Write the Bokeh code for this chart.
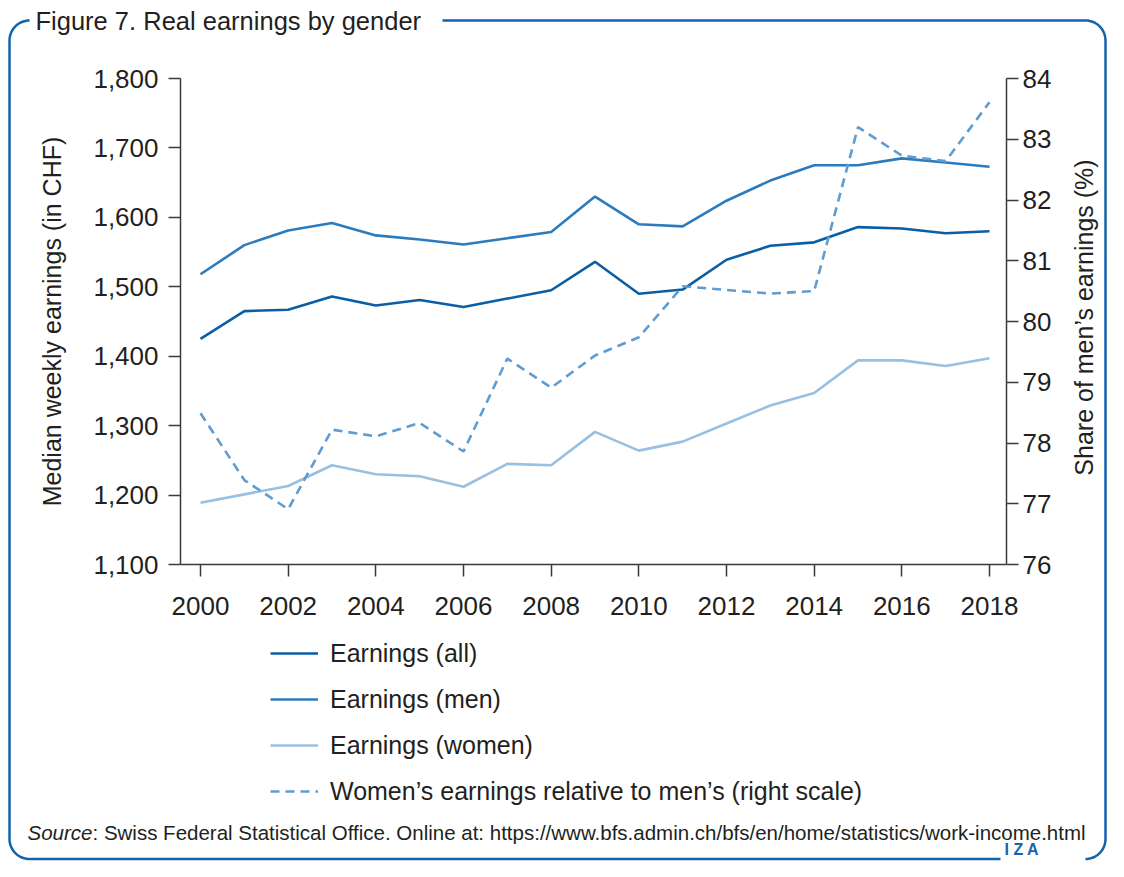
import numpy as np
from bokeh.plotting import figure
from bokeh.models import (Range1d, LinearAxis, FixedTicker, NumeralTickFormatter,
                          Label, Legend, LegendItem)
from bokeh.embed import file_html
from bokeh.resources import INLINE

# ---------------- data ----------------
years = list(range(2000, 2019))
earn_all = [1425, 1465, 1467, 1486, 1473, 1481, 1471, 1483, 1495, 1536,
            1490, 1496, 1539, 1559, 1564, 1586, 1584, 1577, 1580]
earn_men = [1518, 1560, 1581, 1592, 1574, 1568, 1561, 1570, 1579, 1630,
            1590, 1587, 1624, 1653, 1675, 1675, 1685, 1679, 1673]
earn_women = [1189, 1201, 1213, 1243, 1230, 1227, 1212, 1245, 1243, 1291,
              1264, 1277, 1303, 1329, 1347, 1394, 1394, 1386, 1397]
share_pct = [78.49, 77.39, 76.91, 78.22, 78.11, 78.33, 77.86, 79.39, 78.91, 79.44,
             79.74, 80.58, 80.52, 80.46, 80.50, 83.20, 82.73, 82.64, 83.61]

x_ticks = [2000, 2002, 2004, 2006, 2008, 2010, 2012, 2014, 2016, 2018]
left_ticks = [1100, 1200, 1300, 1400, 1500, 1600, 1700, 1800]
right_ticks = [76, 77, 78, 79, 80, 81, 82, 83, 84]

series_labels = ["Earnings (all)", "Earnings (men)", "Earnings (women)",
                 "Women\u2019s earnings relative to men\u2019s (right scale)"]
title_text = "Figure 7. Real earnings by gender"
left_label = "Median weekly earnings (in CHF)"
right_label = "Share of men\u2019s earnings (%)"
source_italic = "Source"
source_rest = ": Swiss Federal Statistical Office. Online at: https://www.bfs.admin.ch/bfs/en/home/statistics/work-income.html"
logo_text = "I Z A"

# ---------------- layout constants ----------------
W, H = 1108, 861
FONT = "Liberation Sans"
TXT = "#231f20"
BLUE = "#1463ad"
C_ALL = "#0a5ea6"
C_MEN = "#2b7bbd"
C_WOMEN = "#98c0e2"
C_SHARE = "#5e9cd2"
AX = "#3a3a3a"

# pixel calibration (canvas coords)
px_per_year = 789.0 / 18
x0_px = 200.0                      # 2000
y_top_px, y_bot_px = 78.0, 564.0   # 1800 / 1100 and 84 / 76
chf_per_px = 700.0 / (y_bot_px - y_top_px)
pct_per_px = 8.0 / (y_bot_px - y_top_px)

x_start = 2000 - x0_px / px_per_year
x_end = 2000 + (W - x0_px) / px_per_year
y_start = 1100 - (H - y_bot_px) * chf_per_px
y_end = 1800 + y_top_px * chf_per_px
p_start = 76 - (H - y_bot_px) * pct_per_px
p_end = 84 + y_top_px * pct_per_px

x_axis_left = 2000 - 20 / px_per_year
x_axis_right = 2018 + 17 / px_per_year

p = figure(width=W, height=H, x_range=Range1d(x_start, x_end),
           y_range=Range1d(y_start, y_end), output_backend="svg",
           toolbar_location=None, x_axis_type=None, y_axis_type=None,
           min_border=0)
p.outline_line_color = None
p.background_fill_color = "white"
p.border_fill_color = "white"
p.extra_y_ranges = {"pct": Range1d(p_start, p_end), "py": Range1d(H, 0)}
p.extra_x_ranges = {"px": Range1d(0, W)}

# ---------------- axes ----------------
def style_axis(ax):
    ax.axis_line_color = AX
    ax.axis_line_width = 1.5
    ax.major_tick_line_color = AX
    ax.major_tick_line_width = 1.5
    ax.major_tick_out = 12
    ax.major_tick_in = 0
    ax.minor_tick_out = 0
    ax.minor_tick_in = 0
    ax.major_label_text_font = FONT
    ax.major_label_text_font_size = "26px"
    ax.major_label_text_color = TXT
    ax.axis_label_text_font = FONT
    ax.axis_label_text_font_size = "25px"
    ax.axis_label_text_font_style = "normal"
    ax.axis_label_text_color = TXT

xaxis = LinearAxis(fixed_location=1100, ticker=FixedTicker(ticks=x_ticks),
                   bounds=(x_axis_left, x_axis_right))
style_axis(xaxis)
xaxis.major_label_standoff = 20
p.add_layout(xaxis, "below")

yaxis = LinearAxis(fixed_location=x_axis_left, ticker=FixedTicker(ticks=left_ticks),
                   bounds=(1100, 1800), formatter=NumeralTickFormatter(format="0,0"),
                   axis_label=left_label)
style_axis(yaxis)
yaxis.major_label_standoff = 10
yaxis.axis_label_standoff = 24
p.add_layout(yaxis, "left")

raxis = LinearAxis(y_range_name="pct", fixed_location=x_axis_right,
                   ticker=FixedTicker(ticks=right_ticks), bounds=(76, 84))
style_axis(raxis)
raxis.major_label_standoff = 4
p.add_layout(raxis, "right")

# ---------------- data lines ----------------
r_all = p.line(years, earn_all, line_color=C_ALL, line_width=2.6)
r_men = p.line(years, earn_men, line_color=C_MEN, line_width=2.6)
r_women = p.line(years, earn_women, line_color=C_WOMEN, line_width=2.6)
r_share = p.line(years, share_pct, y_range_name="pct", line_color=C_SHARE,
                 line_width=2.6, line_dash="9 6")

legend = Legend(items=[LegendItem(label=series_labels[0], renderers=[r_all]),
                       LegendItem(label=series_labels[1], renderers=[r_men]),
                       LegendItem(label=series_labels[2], renderers=[r_women]),
                       LegendItem(label=series_labels[3], renderers=[r_share])],
                location=(270, 55), orientation="vertical",
                glyph_width=48, glyph_height=30, label_height=30, spacing=16,
                label_standoff=12, padding=0, margin=0,
                border_line_color=None, background_fill_alpha=0,
                label_text_font=FONT, label_text_font_size="25px",
                label_text_color=TXT)
p.add_layout(legend, "center")

# ---------------- frame border (decoration) ----------------
L, R, T, B, rad = 9.0, 1105.0, 20.0, 858.5, 20.0
def arc(cx, cy, a0, a1):
    t = np.radians(np.linspace(a0, a1, 16))
    return list(cx + rad * np.cos(t)), list(cy + rad * np.sin(t))
bx, by = [1000.0], [B]
ax_, ay_ = arc(L + rad, B - rad, 90, 180); bx += ax_; by += ay_
ax_, ay_ = arc(L + rad, T + rad, 180, 270); bx += ax_; by += ay_
bx += [np.nan, 442.0]; by += [np.nan, T]
ax_, ay_ = arc(R - rad, T + rad, 270, 360); bx += ax_; by += ay_
ax_, ay_ = arc(R - rad, B - rad, 0, 90); bx += ax_; by += ay_
p.line(bx, by, x_range_name="px", y_range_name="py", line_color=BLUE,
       line_width=2.5, line_join="round")

# ---------------- texts ----------------
def add_label(x, y, text, size, color=TXT, style="normal", align="left", angle=0.0):
    lab = Label(x=x, y=y, x_range_name="px", y_range_name="py", text=text,
                text_font=FONT, text_font_size=size, text_color=color,
                text_font_style=style, text_align=align, text_baseline="middle",
                angle=angle)
    p.add_layout(lab)

add_label(35, 20, title_text, "25.5px")
add_label(1083, 317, right_label, "25px", align="center", angle=np.pi / 2)
add_label(27, 832, source_italic, "20.5px", style="italic")
add_label(92, 832, source_rest, "20.5px")
add_label(1004, 849, logo_text, "16px", color=BLUE, style="bold")

open("out.html", "w").write(file_html(p, INLINE))
